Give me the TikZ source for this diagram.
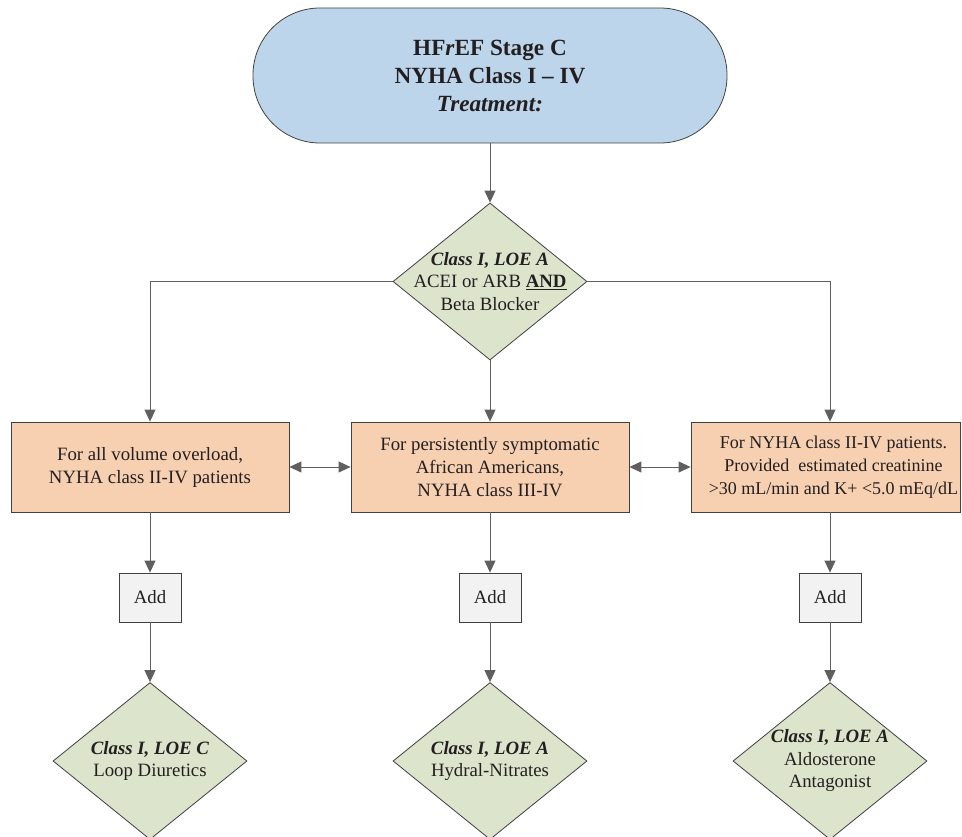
\documentclass[tikz,border=0pt]{standalone}
\usepackage{fontspec}
\setmainfont{Liberation Serif}
\usetikzlibrary{shapes.geometric,arrows.meta}
\definecolor{txt}{HTML}{231F20}
\definecolor{edge}{HTML}{404040}
\definecolor{conn}{HTML}{5F5F5F}
\definecolor{bluefill}{HTML}{BDD5EB}
\definecolor{greenfill}{HTML}{DCE4CC}
\definecolor{peachfill}{HTML}{F7D0B2}
\definecolor{greyfill}{HTML}{F2F2F2}
\tikzset{
  base/.style={draw=edge, line width=0.8pt, text=txt, align=center, inner sep=0pt,
    font=\fontsize{18.8}{23}\selectfont},
  startnode/.style={base, fill=bluefill, rounded corners=67pt, minimum width=474pt, minimum height=135pt,
    font=\fontsize{23.2}{28}\selectfont\bfseries},
  decision/.style={draw=edge, line width=0.8pt, diamond, fill=greenfill, inner sep=0pt,
    minimum width=194pt, minimum height=157pt},
  dtext/.style={text=txt, align=center, font=\fontsize{18.8}{22.5}\selectfont},
  btext/.style={text=txt, align=center, inner sep=0pt, font=\fontsize{18}{23}\selectfont},
  condbox/.style={base, fill=peachfill, minimum width=278pt, minimum height=90pt},
  addbox/.style={base, fill=greyfill, minimum width=62pt, minimum height=49pt},
  conline/.style={draw=conn, line width=0.9pt, -{Triangle[length=12pt,width=11pt]}},
  dconline/.style={draw=conn, line width=0.9pt, {Triangle[length=12pt,width=11pt]}-{Triangle[length=12pt,width=11pt]}}
}
\begin{document}
\begin{tikzpicture}[x=1pt,y=-1pt]
\useasboundingbox (0,0) rectangle (962,837);

\node[startnode] (start) at (490,75.5) {HF\textit{r}EF Stage C\\NYHA Class I -- IV\\\textit{Treatment:}};

\node[decision] (d1) at (490,281.5) {};
\node[dtext] (d1t) at (d1.center) {\textbf{\textit{Class I, LOE A}}\\ACEI or ARB \underline{\textbf{AND}}\\Beta Blocker};

\node[condbox] (b1) at (150,467) {For all volume overload,\\NYHA class II-IV patients};
\node[condbox] (b2) at (490,467) {For persistently symptomatic\\African Americans,\\NYHA class III-IV};
\node[condbox, minimum width=269pt] (b3) at (825.5,467) {};
\node[btext] (b3t) at (833.5,467) {For NYHA class II-IV patients.\\Provided\ \ estimated creatinine\\{>}30 mL/min and K+ {<}5.0 mEq/dL};

\node[addbox] (a1) at (150,597.5) {Add};
\node[addbox] (a2) at (490,597.5) {Add};
\node[addbox] (a3) at (830,597.5) {Add};

\node[decision] (e1) at (150,761) {};
\node[dtext] (e1t) at (e1.center) {\textbf{\textit{Class I, LOE C}}\\Loop Diuretics};
\node[decision] (e2) at (490,761) {};
\node[dtext] (e2t) at (e2.center) {\textbf{\textit{Class I, LOE A}}\\Hydral-Nitrates};
\node[decision] (e3) at (830,761) {};
\node[dtext] (e3t) at (e3.center) {\textbf{\textit{Class I, LOE A}}\\Aldosterone\\Antagonist};

\draw[conline] (start.south) -- (d1.north);
\draw[conline] (d1.west) -| (b1.north);
\draw[conline] (d1.south) -- (b2.north);
\draw[conline] (d1.east) -| (b3.north -| a3.north);
\draw[dconline] (b1.east) -- (b2.west);
\draw[dconline] (b2.east) -- (b3.west);

\draw[conline] (b1.south) -- (a1.north);
\draw[conline] (b2.south) -- (a2.north);
\draw[conline] (b3.south -| a3.north) -- (a3.north);

\draw[conline] (a1.south) -- (e1.north);
\draw[conline] (a2.south) -- (e2.north);
\draw[conline] (a3.south) -- (e3.north);
\end{tikzpicture}
\end{document}
